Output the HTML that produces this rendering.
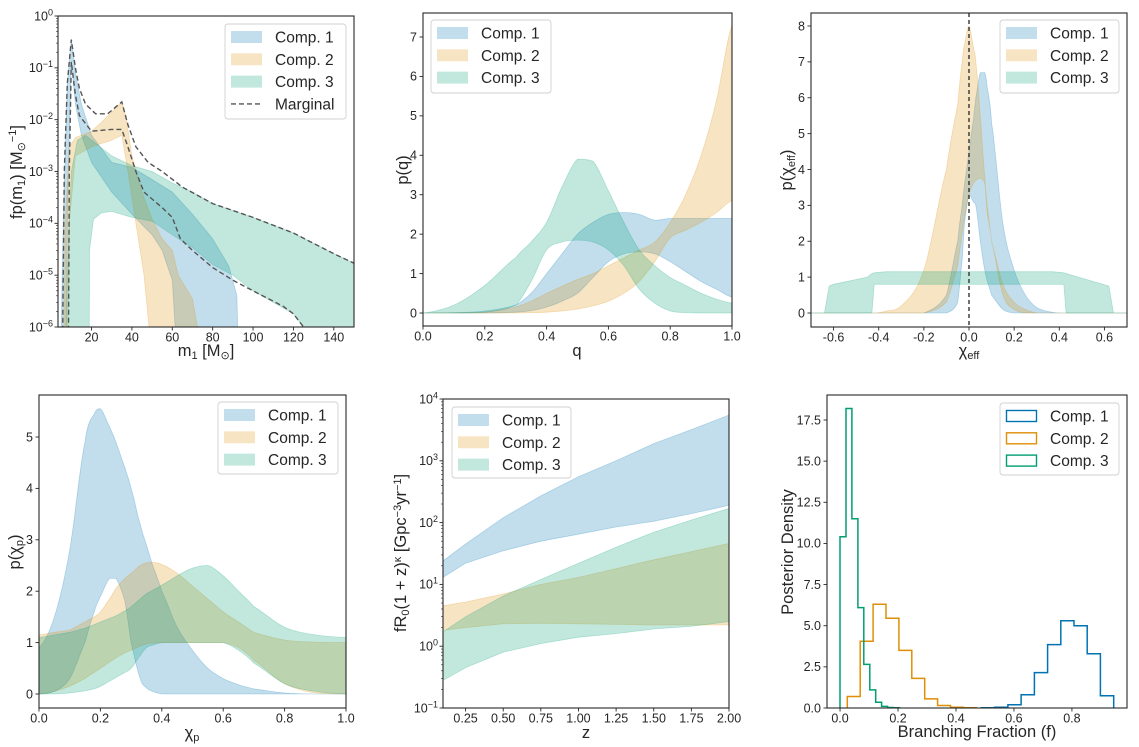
<!DOCTYPE html>
<html><head><meta charset="utf-8">
<style>
html,body{margin:0;padding:0;background:#fff;}
svg{display:block;font-family:"Liberation Sans","DejaVu Sans",sans-serif;}
</style></head>
<body>
<svg id="fig" width="1139" height="747" viewBox="0 0 1139 747" xmlns="http://www.w3.org/2000/svg"></svg>
<script>
// ---------- Panel 1: primary mass ----------
const m1BlueUpX=[4.5,6,8,10,12,15,20,30,40,50,60,70,80,88,92,93];
const m1BlueUpY=[1e-7,1e-4,0.05,0.35,0.08,0.02,5e-3,1.5e-3,1.2e-3,7e-4,4e-4,1.5e-4,5e-5,1.5e-5,4e-6,1e-7];
const m1BlueLoX=[7,8.5,10,12,15,20,30,40,50,55,60,63];
const m1BlueLoY=[1e-7,1e-3,0.13,0.02,5e-3,1.5e-3,4e-4,1.5e-4,6e-5,3e-5,8e-6,1e-7];
const m1OrangeUpX=[6,7,9,12,20,25,30,35,37,40,45,50,55,60,63,70,77];
const m1OrangeUpY=[1e-7,1e-4,3e-3,4.5e-3,6e-3,9e-3,1.4e-2,0.022,0.012,2e-3,4e-4,1.2e-4,5e-5,3e-5,1e-5,3.5e-6,1e-7];
const m1OrangeLoX=[8,9,12,20,30,35,38,42,46,51];
const m1OrangeLoY=[1e-7,1e-4,2e-3,3e-3,4e-3,5e-3,1e-3,1e-4,1e-5,1e-7];
const m1GreenUpX=[7,8,10,13,17,22,30,40,50,60,70,80,100,120,140,150,151];
const m1GreenUpY=[1e-7,1e-5,1e-3,4e-3,5e-3,3.5e-3,2e-3,1.3e-3,1e-3,6e-4,4e-4,2.4e-4,1.3e-4,6.5e-5,2.6e-5,1.7e-5,1.7e-5];
const m1GreenLoX=[9,18.8,19,21,25,30,40,50,60,70,80,90,100,110,120,125,127,151];
const m1GreenLoY=[1e-7,1e-7,3e-5,1.2e-4,1.6e-4,1.7e-4,1.3e-4,1.1e-4,6e-5,3.4e-5,1.6e-5,1e-5,5e-6,3e-6,1.8e-6,1e-6,1e-7,1e-7];
const m1MargUpX=[5.5,6.5,8,10,12,14,17,22,28,35,38,42,48,55,65,80,100,120,140,150];
const m1MargUpY=[1e-7,1e-3,0.05,0.35,0.1,0.04,0.02,0.013,0.013,0.022,8e-3,3e-3,1.5e-3,1e-3,5e-4,2.4e-4,1.3e-4,6.5e-5,2.6e-5,1.7e-5];
const m1MargLoX=[8.5,9,10,12,14,20,30,35,38,42,46,55,60,64,70,80,90,100,115,120,125,126];
const m1MargLoY=[1e-7,1e-3,0.13,0.03,0.012,6e-3,6.5e-3,6.5e-3,3e-3,1e-3,4e-4,2e-4,1.3e-4,5e-5,3e-5,1.4e-5,8e-6,5e-6,2.5e-6,1.8e-6,1e-6,1e-7];
const m1TicksX=[20,40,60,80,100,120,140];
const m1TicksYExp=[-6,-5,-4,-3,-2,-1,0];

// ---------- Panel 2: q ----------
const qX=[0,0.1,0.2,0.3,0.35,0.4,0.45,0.5,0.55,0.6,0.65,0.7,0.75,0.8,0.85,0.9,0.95,1.0];
const qGreenUp=[0,0.2,0.7,1.4,1.8,2.3,3.2,3.9,3.85,3.1,2.3,1.6,1.2,0.9,0.7,0.5,0.35,0.25];
const qGreenLo=[0,0,0.02,0.2,0.8,1.6,1.8,1.85,1.8,1.6,1.2,0.6,0.25,0.05,0.01,0,0,0];
const qBlueUp=[0,0.01,0.05,0.2,0.5,1.0,1.5,2.0,2.3,2.5,2.55,2.5,2.35,2.4,2.4,2.4,2.4,2.4];
const qBlueLo=[0,0,0,0.02,0.06,0.15,0.3,0.5,0.9,1.3,1.5,1.55,1.5,1.3,1.05,0.8,0.6,0.4];
const qOrangeUp=[0,0.005,0.02,0.15,0.3,0.5,0.68,0.85,1.0,1.2,1.4,1.6,1.8,2.3,3.0,4.0,5.4,7.3];
const qOrangeLo=[0,0,0,0,0.01,0.02,0.05,0.1,0.18,0.3,0.5,0.8,1.3,1.9,2.1,2.3,2.55,2.85];
const qTicksX=[0,0.2,0.4,0.6,0.8,1.0];
const qTicksY=[0,1,2,3,4,5,6,7];

// ---------- Panel 3: chi_eff ----------
const ceX=[-0.7,-0.64,-0.62,-0.6,-0.45,-0.43,-0.42,-0.37,-0.3,-0.2,-0.1,-0.05,-0.03,-0.02,0,0.02,0.03,0.05,0.07,0.08,0.1,0.15,0.2,0.25,0.3,0.37,0.42,0.43,0.62,0.64,0.7];
const ceBlueUp=[0,0,0,0,0,0,0,0,0,0,0.5,2,3,3.6,4.5,5.4,6,6.7,6.7,6.3,5.3,2.5,1.2,0.5,0.15,0.02,0,0,0,0,0];
const ceBlueLo=[0,0,0,0,0,0,0,0,0,0,0,0.3,1.5,2.5,3.3,3.1,3,2,1.2,0.9,0.5,0.1,0,0,0,0,0,0,0,0,0];
const ceOrangeUp=[0,0,0,0,0,0,0,0.05,0.2,1.2,4,5.8,7,7.5,8,7.4,7,5.5,3.8,3,2,0.8,0.3,0.1,0,0,0,0,0,0,0];
const ceOrangeLo=[0,0,0,0,0,0,0,0,0,0,0.3,1.3,2.2,2.7,3.3,3.6,3.7,3.75,3.6,2.8,2,0.5,0.1,0,0,0,0,0,0,0,0];
const ceGreenUp=[0,0,0.75,0.8,1.0,1.1,1.12,1.15,1.15,1.15,1.15,1.15,1.15,1.15,1.15,1.15,1.15,1.15,1.15,1.15,1.15,1.15,1.15,1.15,1.15,1.15,1.12,1.1,0.75,0,0];
const ceGreenLo=[0,0,0,0,0,0,0.8,0.8,0.8,0.8,0.8,0.8,0.8,0.8,0.8,0.8,0.8,0.8,0.8,0.8,0.8,0.8,0.8,0.8,0.8,0.8,0.8,0,0,0,0];
const ceTicksX=[-0.6,-0.4,-0.2,0,0.2,0.4,0.6];
const ceTicksY=[0,1,2,3,4,5,6,7,8];

// ---------- Panel 4: chi_p ----------
const cpX=[0,0.05,0.1,0.15,0.18,0.2,0.23,0.25,0.28,0.3,0.33,0.35,0.37,0.4,0.45,0.5,0.55,0.6,0.65,0.7,0.8,0.9,1.0];
const cpBlueUp=[0.9,1.5,2.8,4.9,5.45,5.55,5.2,4.9,4.4,4,3.3,2.9,2.5,2.0,1.3,0.85,0.5,0.3,0.18,0.1,0.02,0,0];
const cpBlueLo=[0,0.05,0.3,1,1.6,1.9,2.25,2.25,1.8,1.0,0.3,0.12,0.05,0,0,0,0,0,0,0,0,0,0];
const cpOrangeUp=[1.15,1.2,1.25,1.4,1.5,1.6,1.85,2.05,2.25,2.35,2.5,2.55,2.56,2.52,2.35,2.1,1.85,1.6,1.4,1.2,1.05,1.01,1.0];
const cpOrangeLo=[0,0.05,0.15,0.3,0.42,0.5,0.62,0.7,0.8,0.85,0.93,0.97,0.99,1.0,1.0,1.0,1.0,1.0,0.9,0.65,0.2,0.02,0];
const cpGreenUp=[1.1,1.15,1.2,1.28,1.35,1.4,1.47,1.52,1.62,1.7,1.85,1.95,2.02,2.12,2.3,2.45,2.5,2.3,2.0,1.7,1.3,1.15,1.1];
const cpGreenLo=[0,0,0.02,0.06,0.1,0.15,0.25,0.32,0.42,0.5,0.75,0.9,0.95,1.0,1.0,1.0,1.0,1.0,0.85,0.6,0.2,0.05,0];
const cpTicksX=[0,0.2,0.4,0.6,0.8,1.0];
const cpTicksY=[0,1,2,3,4,5];

// ---------- Panel 5: rate vs z ----------
const zX=[0.1,0.25,0.5,0.75,1.0,1.25,1.5,1.75,2.0];
const zBlueUp=[24,45,120,270,550,1000,1900,3200,5500];
const zBlueLo=[13,22,35,50,65,85,105,140,190];
const zOrangeUp=[4.5,5.2,7,10,13,18,25,34,46];
const zOrangeLo=[1.8,2.0,2.3,2.35,2.3,2.25,2.2,2.2,2.2];
const zGreenUp=[1.7,3,6.5,12,22,40,70,110,170];
const zGreenLo=[0.28,0.45,0.8,1.1,1.4,1.6,1.9,2.1,2.5];
const zTicksX=[0.25,0.5,0.75,1.0,1.25,1.5,1.75,2.0];
const zTicksYExp=[-1,0,1,2,3,4];

// ---------- Panel 6: branching fraction histograms ----------
const bfBlueStart=0.488, bfBlueWidth=0.0456;
const bfBlueH=[0.02,0.05,0.2,0.8,2.15,3.85,5.3,5.0,3.3,0.75];
const bfOrangeStart=0.025, bfOrangeWidth=0.0445;
const bfOrangeH=[0.7,4.05,6.3,5.45,3.5,1.8,0.55,0.15,0.05,0.02];
const bfGreenStart=0.0, bfGreenWidth=0.0205;
const bfGreenH=[10.4,18.2,11.5,6.1,2.65,1.1,0.35,0.1,0.03,0.01];
const bfTicksX=[0,0.2,0.4,0.6,0.8];
const bfTicksY=[0,2.5,5,7.5,10,12.5,15,17.5];

const NS='http://www.w3.org/2000/svg';
const svg=document.getElementById('fig');
const C1='#0173b2',C2='#de8f05',C3='#029e73',INK='#262626';
const TICKFS=12.5, LABELFS=16.5;
function mk(tag,attrs,parent){const e=document.createElementNS(NS,tag);for(const k in attrs)e.setAttribute(k,attrs[k]);(parent||svg).appendChild(e);return e;}
function lin(d0,d1,p0,p1){return v=>p0+(v-d0)*(p1-p0)/(d1-d0);}
function lg(d0,d1,p0,p1){const a=Math.log10(d0),b=Math.log10(d1);return v=>p0+(Math.log10(Math.max(v,1e-12))-a)*(p1-p0)/(b-a);}
let clipN=0;
function panel(name,L,R,T,B){
  const g=mk('g',{});
  
  
  const id='clip'+(clipN++);
  const cp=mk('clipPath',{id:id},g);
  mk('rect',{x:L,y:T,width:R-L,height:B-T},cp);
  const plot=mk('g',{'clip-path':'url(#'+id+')'},g);
  
  
  return {g,plot,L,R,T,B};
}
function frame(p){
  const r=mk('rect',{x:p.L,y:p.T,width:p.R-p.L,height:p.B-p.T,fill:'none',stroke:INK,'stroke-width':1.1},p.g);
  
  
}
// smooth path through pixel points (Catmull-Rom, clamped to segment y-range)
function smoothSeg(pts){
  let d='';
  for(let i=0;i<pts.length-1;i++){
    const p0=pts[Math.max(i-1,0)],p1=pts[i],p2=pts[i+1],p3=pts[Math.min(i+2,pts.length-1)];
    const lo=Math.min(p1[1],p2[1]),hi=Math.max(p1[1],p2[1]);
    let c1y=p1[1]+(p2[1]-p0[1])/6, c2y=p2[1]-(p3[1]-p1[1])/6;
    c1y=Math.min(hi,Math.max(lo,c1y)); c2y=Math.min(hi,Math.max(lo,c2y));
    const c1x=p1[0]+(p2[0]-p1[0])/3, c2x=p2[0]-(p2[0]-p1[0])/3;
    d+=' C'+c1x.toFixed(1)+','+c1y.toFixed(1)+' '+c2x.toFixed(1)+','+c2y.toFixed(1)+' '+p2[0].toFixed(1)+','+p2[1].toFixed(1);
  }
  return d;
}
function band(p,xu,yu,xl,yl,sx,sy,color,name,smooth){
  const up=xu.map((x,i)=>[sx(x),sy(yu[i])]);
  const lo=xl.map((x,i)=>[sx(x),sy(yl[i])]).reverse();
  let d;
  if(smooth){
    d='M'+up[0][0].toFixed(1)+','+up[0][1].toFixed(1)+smoothSeg(up)+' L'+lo[0][0].toFixed(1)+','+lo[0][1].toFixed(1)+smoothSeg(lo)+' Z';
  } else {
    d='M'+up.concat(lo).map(q=>q[0].toFixed(1)+','+q[1].toFixed(1)).join(' L')+' Z';
  }
  const e=mk('path',{d:d,fill:color,'fill-opacity':0.24,stroke:color,'stroke-opacity':0.24,'stroke-width':0.8},p.plot);
  
  
}
function line(p,xs,ys,sx,sy,attrs,name){
  const pts=xs.map((x,i)=>sx(x).toFixed(1)+','+sy(ys[i]).toFixed(1)).join(' ');
  const e=mk('polyline',Object.assign({points:pts,fill:'none'},attrs),p.plot);
  
  
}
function xtick(p,px,label,minor){
  mk('line',{x1:px,x2:px,y1:p.B,y2:p.B+(minor?2:3.5),stroke:INK,'stroke-width':minor?0.6:0.9},p.g);
  if(label!==null){
    const t=mk('text',{x:px,y:p.B+14.5,'font-size':TICKFS,fill:INK,'text-anchor':'middle'},p.g);
    t.textContent=label;
    
    
  }
}
function ytick(p,py,label,minor){
  mk('line',{x1:p.L,x2:p.L-(minor?2:3.5),y1:py,y2:py,stroke:INK,'stroke-width':minor?0.6:0.9},p.g);
  if(label!==null){
    const t=mk('text',{x:p.L-6,y:py+4.3,'font-size':TICKFS,fill:INK,'text-anchor':'end'},p.g);
    t.textContent=label;
    
    
  }
}
function ytickExp(p,py,exp){
  mk('line',{x1:p.L,x2:p.L-3.5,y1:py,y2:py,stroke:INK,'stroke-width':0.9},p.g);
  const t=mk('text',{x:p.L-5,y:py+4.3,'font-size':TICKFS,fill:INK,'text-anchor':'end'},p.g);
  
  
  const a=mk('tspan',{},t);a.textContent='10';
  const b=mk('tspan',{dy:-5,'font-size':9},t);b.textContent=(exp<0?'\u2212':'')+Math.abs(exp);
}
function logMinor(p,sy,e0,e1){
  for(let e=e0;e<e1;e++)for(let k=2;k<10;k++){const py=sy(k*Math.pow(10,e));ytick(p,py,null,true);}
}
function label(x,y,rot,parts,name,size){
  const t=mk('text',{x:x,y:y,'font-size':size||LABELFS,fill:INK,'text-anchor':'middle',transform:rot?('rotate(-90 '+x+' '+y+')'):''});
  
  
  parts.forEach(pt=>{const s=mk('tspan',pt.a||{},t);s.textContent=pt.t;});
  return t;
}
function legend(x,y,w,h,items,name){
  const g=mk('g',{});
  
  
  mk('rect',{x:x,y:y,width:w,height:h,rx:3,fill:'#fff','fill-opacity':0.85,stroke:'#d0d0d0','stroke-width':0.9},g);
  items.forEach((it,i)=>{
    const cy=y+13+i*22.3;
    const e=mk('g',{},g);
    
    
    if(it.kind==='fill'){mk('rect',{x:x+6,y:cy-6,width:31,height:12,fill:it.c,'fill-opacity':0.24},e);}
    else if(it.kind==='step'){mk('rect',{x:x+6.5,y:cy-5.5,width:30,height:11,fill:'none',stroke:it.c,'stroke-width':1.4},e);}
    else {mk('line',{x1:x+6,x2:x+37,y1:cy,y2:cy,stroke:'#555','stroke-width':1.4,'stroke-dasharray':'5,3'},e);}
    const t=mk('text',{x:x+50,y:cy+5.5,'font-size':15.5,fill:INK},e);t.textContent=it.t;
  });
}
const fillItems=[{kind:'fill',c:C1,t:'Comp. 1'},{kind:'fill',c:C2,t:'Comp. 2'},{kind:'fill',c:C3,t:'Comp. 3'}];

// ===== Panel 1 =====
{
  const p=panel('panel-primary-mass',58,354,16,327);
  const sx=lin(3.4,150,p.L,p.R), sy=lg(1e-6,1,p.B,p.T);
  band(p,m1BlueUpX,m1BlueUpY,m1BlueLoX,m1BlueLoY,sx,sy,C1,'band-comp-1');
  band(p,m1OrangeUpX,m1OrangeUpY,m1OrangeLoX,m1OrangeLoY,sx,sy,C2,'band-comp-2');
  band(p,m1GreenUpX,m1GreenUpY,m1GreenLoX,m1GreenLoY,sx,sy,C3,'band-comp-3');
  line(p,m1MargUpX,m1MargUpY,sx,sy,{stroke:'#555','stroke-width':1.4,'stroke-dasharray':'5,3'},'marginal-upper');
  line(p,m1MargLoX,m1MargLoY,sx,sy,{stroke:'#555','stroke-width':1.4,'stroke-dasharray':'5,3'},'marginal-lower');
  frame(p);
  m1TicksX.forEach(v=>xtick(p,sx(v),String(v)));
  logMinor(p,sy,-6,0);
  m1TicksYExp.forEach(e=>ytickExp(p,sy(Math.pow(10,e)),e));
  label(206,356,false,[{t:'m'},{t:'1',a:{'font-size':11,dy:3}},{t:' [M',a:{dy:-3}},{t:'\u2299',a:{'font-size':11,dy:3}},{t:']',a:{dy:-3}}],'x-axis-title');
  label(22,172,true,[{t:'fp(m'},{t:'1',a:{'font-size':11,dy:3}},{t:') [M',a:{dy:-3}},{t:'\u2299',a:{'font-size':11,dy:3}},{t:'\u22121',a:{'font-size':11,dy:-9}},{t:']',a:{dy:6}}],'y-axis-title');
  legend(225,24,121,95,fillItems.concat([{kind:'dash',t:'Marginal'}]),'legend');
}
// ===== Panel 2 =====
{
  const p=panel('panel-mass-ratio',423,732,13,326);
  const sx=lin(0,1,p.L,p.R), sy=lin(0,7,313,37);
  band(p,qX,qBlueUp,qX,qBlueLo,sx,sy,C1,'band-comp-1',true);
  band(p,qX,qOrangeUp,qX,qOrangeLo,sx,sy,C2,'band-comp-2',true);
  band(p,qX,qGreenUp,qX,qGreenLo,sx,sy,C3,'band-comp-3',true);
  frame(p);
  qTicksX.forEach(v=>xtick(p,sx(v),v.toFixed(1)));
  qTicksY.forEach(v=>ytick(p,sy(v),String(v)));
  label(577,356,false,[{t:'q'}],'x-axis-title');
  label(408,170,true,[{t:'p(q)'}],'y-axis-title');
  legend(431,20,120,73,fillItems,'legend');
}
// ===== Panel 3 =====
{
  const p=panel('panel-chi-eff',811,1127,13,327);
  const sx=lin(-0.7,0.7,p.L,p.R), sy=lin(0,8,313,26);
  band(p,ceX,ceBlueUp,ceX,ceBlueLo,sx,sy,C1,'band-comp-1',true);
  band(p,ceX,ceOrangeUp,ceX,ceOrangeLo,sx,sy,C2,'band-comp-2',true);
  band(p,ceX,ceGreenUp,ceX,ceGreenLo,sx,sy,C3,'band-comp-3');
  const v=mk('line',{x1:sx(0),x2:sx(0),y1:p.T,y2:p.B,stroke:'#333','stroke-width':1.4,'stroke-dasharray':'4,3'},p.plot);
  
  
  frame(p);
  ceTicksX.forEach(t=>xtick(p,sx(t),t.toFixed(1)));
  ceTicksY.forEach(t=>ytick(p,sy(t),String(t)));
  label(969,356,false,[{t:'\u03c7'},{t:'eff',a:{'font-size':11,dy:3}}],'x-axis-title');
  label(792,170,true,[{t:'p(\u03c7'},{t:'eff',a:{'font-size':11,dy:3}},{t:')',a:{dy:-3}}],'y-axis-title');
  legend(1000,20,119,73,fillItems,'legend');
}
// ===== Panel 4 =====
{
  const p=panel('panel-chi-p',39,346,395,708);
  const sx=lin(0,1,p.L,p.R), sy=lin(0,5,694,437);
  band(p,cpX,cpBlueUp,cpX,cpBlueLo,sx,sy,C1,'band-comp-1',true);
  band(p,cpX,cpOrangeUp,cpX,cpOrangeLo,sx,sy,C2,'band-comp-2',true);
  band(p,cpX,cpGreenUp,cpX,cpGreenLo,sx,sy,C3,'band-comp-3',true);
  frame(p);
  cpTicksX.forEach(v=>xtick(p,sx(v),v.toFixed(1)));
  cpTicksY.forEach(v=>ytick(p,sy(v),String(v)));
  label(192,738,false,[{t:'\u03c7'},{t:'p',a:{'font-size':11,dy:3}}],'x-axis-title');
  label(20,552,true,[{t:'p(\u03c7'},{t:'p',a:{'font-size':11,dy:3}},{t:')',a:{dy:-3}}],'y-axis-title');
  legend(218,402,120,72,fillItems,'legend');
}
// ===== Panel 5 =====
{
  const p=panel('panel-rate-redshift',443,729,399,708);
  const sx=lin(0.1,2.0,p.L,p.R), sy=lg(0.1,1e4,p.B,p.T);
  band(p,zX,zBlueUp,zX,zBlueLo,sx,sy,C1,'band-comp-1');
  band(p,zX,zOrangeUp,zX,zOrangeLo,sx,sy,C2,'band-comp-2');
  band(p,zX,zGreenUp,zX,zGreenLo,sx,sy,C3,'band-comp-3');
  frame(p);
  zTicksX.forEach(v=>xtick(p,sx(v),v.toFixed(2)));
  logMinor(p,sy,-1,4);
  zTicksYExp.forEach(e=>ytickExp(p,sy(Math.pow(10,e)),e));
  label(586,738,false,[{t:'z'}],'x-axis-title');
  label(406,553,true,[{t:'fR'},{t:'0',a:{'font-size':11,dy:3}},{t:'(1 + z)',a:{dy:-3}},{t:'\u03ba',a:{'font-size':11,dy:-5}},{t:' [Gpc',a:{dy:5}},{t:'\u22123',a:{'font-size':11,dy:-5}},{t:'yr',a:{dy:5}},{t:'\u22121',a:{'font-size':11,dy:-5}},{t:']',a:{dy:5}}],'y-axis-title');
  legend(452,407,119,71,fillItems,'legend');
}
// ===== Panel 6 =====
{
  const p=panel('panel-branching-fraction',827,1127,395,708);
  const sx=lin(-0.045,0.99,p.L,p.R), sy=lin(0,17.5,708,420);
  function hist(start,w,h,color,name){
    const xs=[start],ys=[0];
    h.forEach((v,i)=>{xs.push(start+i*w,start+(i+1)*w);ys.push(v,v);});
    xs.push(start+h.length*w);ys.push(0);
    line(p,xs,ys,sx,sy,{stroke:color,'stroke-width':1.5},name);
  }
  hist(bfBlueStart,bfBlueWidth,bfBlueH,C1,'hist-comp-1');
  hist(bfOrangeStart,bfOrangeWidth,bfOrangeH,C2,'hist-comp-2');
  hist(bfGreenStart,bfGreenWidth,bfGreenH,C3,'hist-comp-3');
  frame(p);
  bfTicksX.forEach(v=>xtick(p,sx(v),v.toFixed(1)));
  bfTicksY.forEach(v=>ytick(p,sy(v),v.toFixed(1)));
  label(977,737,false,[{t:'Branching Fraction (f)'}],'x-axis-title');
  label(793,552,true,[{t:'Posterior Density'}],'y-axis-title');
  legend(1000,403,119,72,[{kind:'step',c:C1,t:'Comp. 1'},{kind:'step',c:C2,t:'Comp. 2'},{kind:'step',c:C3,t:'Comp. 3'}],'legend');
}
</script>
</body></html>
